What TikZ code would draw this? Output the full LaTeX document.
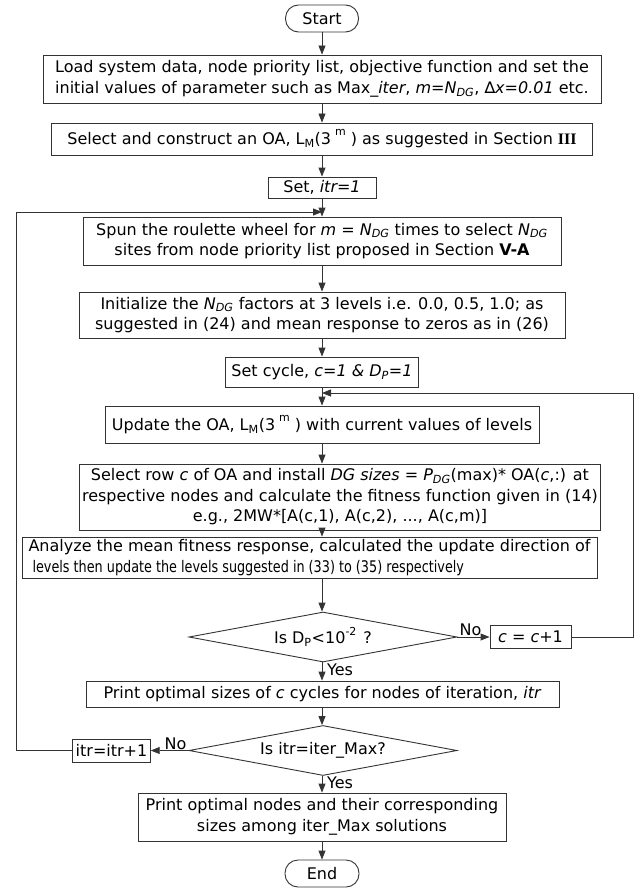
\documentclass[tikz,border=0pt]{standalone}
\usepackage{fontspec}
\setmainfont{DejaVu Sans}
\newfontfamily\serifbold{Liberation Serif}
\usepackage{graphicx}
\usetikzlibrary{shapes.geometric,arrows.meta}
\newcommand{\hisup}[1]{\hspace{4pt}\raisebox{9pt}{\fontsize{11}{11}\selectfont #1}\hspace{5pt}}
\begin{document}
\begin{tikzpicture}[x=1pt,y=-1pt,
  every node/.style={font=\fontsize{16}{20.5}\selectfont, text=black},
  box/.style={draw=black!80, line width=0.9pt, inner xsep=3pt, inner ysep=1pt, align=center},
  term/.style={box, rounded corners=13pt},
  dec/.style={draw=black!80, line width=0.9pt, diamond, aspect=5.4, inner sep=0pt, minimum width=268, minimum height=50},
  arr/.style={draw=black!80, line width=0.9pt, -{Triangle[length=9pt,width=7pt]}},
  lab/.style={inner sep=0pt}]
\useasboundingbox (0,0) rectangle (636,888);
\coordinate (tr) at (322,0);

\node[term, minimum width=73, minimum height=27] (start) at (322,18.5) {Start};
\node[box, minimum width=558, minimum height=48] (load) at (322,79)
  {Load system data, node priority list, objective function and set the\\
   initial values of parameter such as Max\_\textit{iter}, \textit{m=N\textsubscript{DG}}, ∆\textit{x=0.01} etc.};
\node[box, minimum width=541, minimum height=32] (sel) at (322,139)
  {Select and construct an OA, L\textsubscript{M}(3\hisup{m}) as suggested in Section {\serifbold\bfseries III}};
\node[box, minimum width=108, minimum height=21] (setitr) at (322,187.5) {Set, \textit{itr=1}};
\node[box, minimum width=478, minimum height=48] (spun) at (322,241)
  {Spun the roulette wheel for \textit{m} = \textit{N\textsubscript{DG}} times to select \textit{N\textsubscript{DG}}\\
   sites from node priority list proposed in Section \textbf{V-A}};
\node[box, minimum width=486, minimum height=46] (init) at (322,315)
  {Initialize the \textit{N\textsubscript{DG}} factors at 3 levels i.e. 0.0, 0.5, 1.0; as\\
   suggested in (24) and mean response to zeros as in (26)};
\node[box, minimum width=193, minimum height=30] (setc) at (322,372)
  {Set cycle, \textit{c=1 \& D\textsubscript{P}=1}};
\node[box, minimum width=434, minimum height=37] (upd) at (322,424.5)
  {Update the OA, L\textsubscript{M}(3\hisup{m}) with current values of levels};
\node[box, minimum width=488, minimum height=66] (selrow) at (340,497)
  {Select row \textit{c} of OA and install \textit{DG sizes} = \textit{P\textsubscript{DG}}(max)* OA(\textit{c},:) at\\
   respective nodes and calculate the fitness function given in (14)\\
   e.g., 2MW*[A(c,1), A(c,2), ..., A(c,m)]};
\node[box, align=left, minimum width=575, minimum height=41] (analyze) at (309.5,557.5)
  {Analyze the mean fitness response, calculated the update direction of\\
   \hspace{4pt}\scalebox{0.8}[1]{levels then update the levels suggested in (33) to (35) respectively}};
\node[dec] (d1) at (323,637) {Is D\textsubscript{P}<10\raisebox{8pt}{\fontsize{11}{11}\selectfont -2}\hspace{7pt}?};
\node[box, minimum width=81, minimum height=23] (cc) at (530.5,637) {\textit{c} = \textit{c}+1};
\node[box, minimum width=473, minimum height=26] (print) at (322.5,694)
  {Print optimal sizes of \textit{c} cycles for nodes of iteration, \textit{itr}};
\node[dec] (d2) at (323,750.5) {Is itr=iter\_Max?};
\node[box, minimum width=77, minimum height=23] (itr) at (111.5,750.5) {itr=itr+1};
\node[box, minimum width=368, minimum height=48] (final) at (322,817)
  {Print optimal nodes and their corresponding\\ sizes among iter\_Max solutions};
\node[term, minimum width=74, minimum height=27] (end) at (322,873.5) {End};

\coordinate (ltop) at (16,212);
\coordinate (rtop) at (633,393);

\draw[arr] (start.south) -- (tr |- load.north);
\draw[arr] (tr |- load.south) -- (tr |- sel.north);
\draw[arr] (tr |- sel.south) -- (tr |- setitr.north);
\draw[arr] (tr |- setitr.south) -- (tr |- spun.north);
\draw[arr] (tr |- spun.south) -- (tr |- init.north);
\draw[arr] (tr |- init.south) -- (tr |- setc.north);
\draw[arr] (tr |- setc.south) -- (tr |- upd.north);
\draw[arr] (tr |- upd.south) -- (tr |- selrow.north);
\draw[arr] (tr |- selrow.south) -- (tr |- analyze.north);
\draw[arr] (tr |- analyze.south) -- (tr |- d1.north);
\draw[arr] (tr |- d1.south) -- (tr |- print.north);
\draw[arr] (tr |- print.south) -- (tr |- d2.north);
\draw[arr] (tr |- d2.south) -- (tr |- final.north);
\draw[arr] (tr |- final.south) -- (tr |- end.north);

\draw[arr] (d1.east) -- (cc.west);
\draw[arr] (d2.west) -- (itr.east);
\draw[arr] (cc.east) -| (rtop) -- (tr |- rtop);
\draw[arr] (itr.west) -| (ltop) -- (tr |- ltop);

\node[lab, anchor=south west] at ([xshift=2pt,yshift=1pt]d1.east) {No};
\node[lab, anchor=north west] at ([xshift=4pt,yshift=-1pt]d1.south) {Yes};
\node[lab, anchor=south east] at ([xshift=-2pt,yshift=1pt]d2.west) {No};
\node[lab, anchor=north west] at ([xshift=4pt,yshift=-1pt]d2.south) {Yes};
\end{tikzpicture}
\end{document}
